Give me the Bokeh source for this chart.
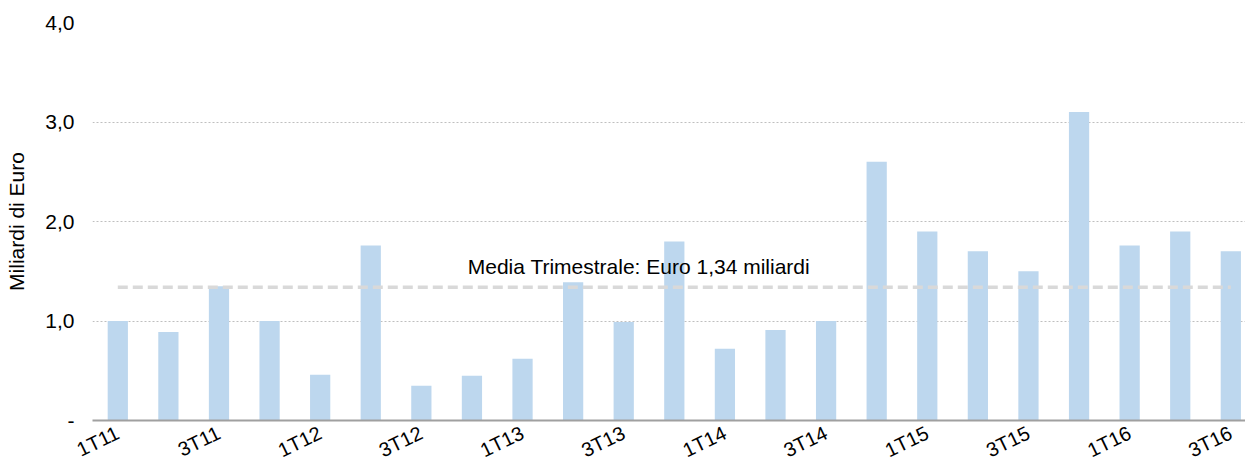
from bokeh.plotting import figure
from bokeh.models import FixedTicker, Label, Range1d, ColumnDataSource
from bokeh.embed import file_html
from bokeh.resources import INLINE

quarters = ["1T11", "2T11", "3T11", "4T11",
            "1T12", "2T12", "3T12", "4T12",
            "1T13", "2T13", "3T13", "4T13",
            "1T14", "2T14", "3T14", "4T14",
            "1T15", "2T15", "3T15", "4T15",
            "1T16", "2T16", "3T16"]
values = [1.0, 0.89, 1.35, 1.0,
          0.46, 1.76, 0.35, 0.45,
          0.62, 1.39, 0.99, 1.8,
          0.72, 0.91, 1.0, 2.6,
          1.9, 1.7, 1.5, 3.1,
          1.76, 1.9, 1.7]
mean_value = 1.34
mean_label = "Media Trimestrale: Euro 1,34 miliardi"
y_ticks = [0, 1, 2, 3, 4]
y_tick_labels = ["-", "1,0", "2,0", "3,0", "4,0"]
y_title = "Miliardi di Euro"

FONT = "Liberation Sans"
n = len(quarters)
idx = list(range(n))

src = ColumnDataSource(dict(x=idx, v=values, q=quarters))

p = figure(width=1245, height=474, output_backend="svg", toolbar_location=None,
           x_range=Range1d(-0.5, n - 0.71), y_range=Range1d(0, 4),
           min_border_left=92, min_border_right=0, min_border_top=22, min_border_bottom=51)
p.outline_line_color = None
p.background_fill_color = "white"

p.vbar(x="x", top="v", width=0.4, source=src, fill_color="#BDD7EE", line_color=None)

p.line(x=[idx[0], idx[-1]], y=[mean_value, mean_value], line_color="#D9D9D9",
       line_width=3.5, line_dash="10 5")

p.add_layout(Label(x=10.3, y=1.55, text=mean_label, text_align="center",
                   text_baseline="alphabetic", text_font=FONT, text_font_size="21px",
                   text_color="#000000"))

# x axis
p.xaxis.ticker = FixedTicker(ticks=idx[::2])
p.xaxis.major_label_overrides = {i: quarters[i] for i in idx[::2]}
p.xaxis.major_label_orientation = 0.45
p.xaxis.major_tick_line_color = None
p.xaxis.major_tick_out = 0
p.xaxis.major_tick_in = 0
p.xaxis.minor_tick_line_color = None
p.xaxis.axis_line_color = "#A0A0A0"
p.xaxis.axis_line_width = 2
p.xaxis.major_label_text_font = FONT
p.xaxis.major_label_text_font_size = "20px"
p.xaxis.major_label_text_color = "#000000"
p.xaxis.major_label_standoff = 11
p.xgrid.grid_line_color = None

# y axis
p.yaxis.ticker = FixedTicker(ticks=y_ticks)
p.yaxis.major_label_overrides = {t: l for t, l in zip(y_ticks, y_tick_labels)}
p.yaxis.axis_line_color = None
p.yaxis.major_tick_line_color = None
p.yaxis.minor_tick_line_color = None
p.yaxis.major_label_text_font = FONT
p.yaxis.major_label_text_font_size = "21px"
p.yaxis.major_label_text_color = "#000000"
p.yaxis.major_label_standoff = 12
p.yaxis.axis_label = y_title
p.yaxis.axis_label_text_font = FONT
p.yaxis.axis_label_text_font_size = "21px"
p.yaxis.axis_label_text_font_style = "normal"
p.yaxis.axis_label_text_color = "#000000"
p.yaxis.axis_label_standoff = 14
p.ygrid.grid_line_color = "#BFBFBF"
p.ygrid.grid_line_dash = "2 2"
p.ygrid.grid_line_width = 1

open("out.html", "w").write(file_html(p, INLINE))
